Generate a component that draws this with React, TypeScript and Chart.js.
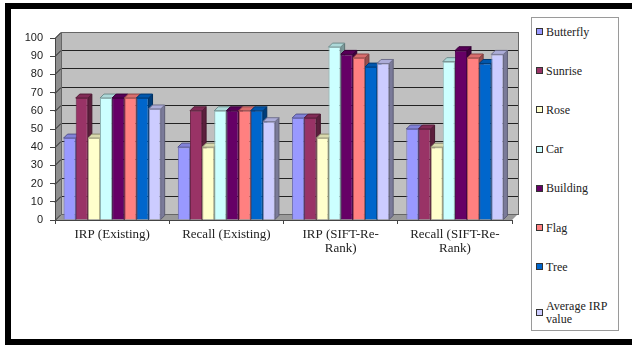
import React, { useEffect, useRef } from "react";
import { Chart, registerables } from "chart.js";

Chart.register(...registerables);

const categories: (string | string[])[] = [
  "IRP (Existing)",
  "Recall (Existing)",
  ["IRP (SIFT-Re-", "Rank)"],
  ["Recall (SIFT-Re-", "Rank)"],
];
const seriesNames = ["Butterfly", "Sunrise", "Rose", "Car", "Building", "Flag", "Tree", "Average IRP value"];
const seriesColors = ["#9999FF", "#993366", "#FFFFCC", "#CCFFFF", "#660066", "#FF8080", "#0066CC", "#CCCCFF"];
const butterfly = [45, 40, 56, 50];
const sunrise = [67, 60, 56, 50];
const rose = [45, 40, 45, 40];
const car = [67, 60, 95, 87];
const building = [67, 60, 91, 93];
const flag = [67, 60, 89, 89];
const tree = [67, 60, 84, 86];
const averageIrp = [61, 54, 86, 91];
const seriesValues = [butterfly, sunrise, rose, car, building, flag, tree, averageIrp];
const yTicks = [0, 10, 20, 30, 40, 50, 60, 70, 80, 90, 100];

const SERIF = "'Liberation Serif', 'Times New Roman', Times, serif";

function shade(hex: string, f: number): string {
  const n = parseInt(hex.slice(1), 16);
  const r = Math.round(((n >> 16) & 255) * f);
  const g = Math.round(((n >> 8) & 255) * f);
  const b = Math.round((n & 255) * f);
  return `rgb(${r},${g},${b})`;
}

function poly(ctx: CanvasRenderingContext2D, pts: number[][], fill: string, stroke?: string) {
  ctx.beginPath();
  ctx.moveTo(pts[0][0], pts[0][1]);
  for (let i = 1; i < pts.length; i++) ctx.lineTo(pts[i][0], pts[i][1]);
  ctx.closePath();
  ctx.fillStyle = fill;
  ctx.fill();
  if (stroke) {
    ctx.strokeStyle = stroke;
    ctx.lineWidth = 1;
    ctx.stroke();
  }
}

const WALL = 6;
const BAR_D = 4;

const threeD = {
  id: "threeD",
  beforeDraw(chart: any) {
    const { ctx, chartArea } = chart;
    if (!chartArea) return;
    const { left, right, top, bottom } = chartArea;
    const y = chart.scales.y;
    ctx.save();
    ctx.fillStyle = "#C0C0C0";
    ctx.fillRect(left + WALL, top - WALL, right - left, bottom - top);
    poly(ctx, [[left, top], [left + WALL, top - WALL], [left + WALL, bottom - WALL], [left, bottom]], "#8e8e8e");
    poly(ctx, [[left, bottom], [left + WALL, bottom - WALL], [right + WALL, bottom - WALL], [right, bottom]], "#9a9a9a");
    ctx.strokeStyle = "#222";
    ctx.lineWidth = 1;
    for (const v of yTicks) {
      const yy = Math.round(y.getPixelForValue(v)) + 0.5;
      ctx.beginPath();
      ctx.moveTo(left, yy);
      ctx.lineTo(left + WALL, yy - WALL);
      ctx.lineTo(right + WALL, yy - WALL);
      ctx.stroke();
    }
    ctx.strokeStyle = "#666";
    ctx.strokeRect(left + WALL + 0.5, top - WALL + 0.5, right - left, bottom - top);
    ctx.restore();
  },
  beforeDatasetsDraw(chart: any) {
    const { ctx } = chart;
    ctx.save();
    const n = chart.data.labels.length;
    for (let c = 0; c < n; c++) {
      chart.data.datasets.forEach((ds: any, i: number) => {
        const el = chart.getDatasetMeta(i).data[c];
        if (!el) return;
        const { x, y, base, width } = el.getProps(["x", "y", "base", "width"], true);
        const bl = x - width / 2;
        const br = x + width / 2;
        const col = seriesColors[i];
        poly(ctx, [[br, y], [br + BAR_D, y - BAR_D], [br + BAR_D, base - BAR_D], [br, base]], shade(col, 0.6), shade(col, 0.45));
        poly(ctx, [[bl, y], [bl + BAR_D, y - BAR_D], [br + BAR_D, y - BAR_D], [br, y]], shade(col, 0.85), shade(col, 0.55));
      });
    }
    ctx.restore();
  },
};

export default function App() {
  const ref = useRef<HTMLCanvasElement | null>(null);
  useEffect(() => {
    if (!ref.current) return;
    const chart = new Chart(ref.current, {
      type: "bar",
      data: {
        labels: categories,
        datasets: seriesNames.map((name, i) => ({
          label: name,
          data: seriesValues[i],
          backgroundColor: seriesColors[i],
          borderColor: shade(seriesColors[i], 0.7),
          borderWidth: 1,
          barPercentage: 1,
          categoryPercentage: 0.85,
        })),
      },
      options: {
        responsive: false,
        animation: false,
        devicePixelRatio: 1,
        layout: { padding: { left: 11, right: 120, top: 38, bottom: 85 } },
        plugins: { legend: { display: false }, tooltip: { enabled: false } },
        scales: {
          x: {
            afterFit: (s: any) => {
              s.height = 40;
            },
            grid: { drawOnChartArea: false, drawTicks: true, tickLength: 4, color: "#444", offset: true },
            border: { display: true, color: "#444", width: 1 },
            ticks: {
              color: "#222",
              padding: 3,
              maxRotation: 0,
              autoSkip: false,
              font: { family: SERIF, size: 13, lineHeight: 1.1 },
            },
          },
          y: {
            min: 0,
            max: 100,
            afterFit: (s: any) => {
              s.width = 44;
            },
            grid: { drawOnChartArea: false, drawTicks: true, tickLength: 5, color: "#444" },
            border: { display: true, color: "#444", width: 1 },
            ticks: {
              stepSize: 10,
              padding: 7,
              color: "#222",
              font: { family: "'Liberation Sans', Arial, sans-serif", size: 11 },
            },
          },
        },
      },
      plugins: [threeD],
    } as any);
    return () => chart.destroy();
  }, []);

  const legendCenters = seriesNames.map((_, i) => (i < seriesNames.length - 1 ? 32 + i * 39.2 : 313));

  return (
    <div
      style={{
        position: "fixed",
        left: 0,
        top: 0,
        width: 632,
        height: 345,
        background: "#fff",
        overflow: "hidden",
      }}
    >
      <div
        style={{
          position: "absolute",
          left: 5,
          top: 3,
          width: 640,
          height: 342,
          boxSizing: "border-box",
          borderTop: "6px solid #000",
          borderLeft: "6px solid #000",
          borderBottom: "6px solid #000",
        }}
      />
      <canvas ref={ref} width={632} height={345} style={{ position: "absolute", left: 0, top: 0, width: 632, height: 345 }} />
      <div
        style={{
          position: "absolute",
          left: 531,
          top: 17,
          width: 88,
          height: 314,
          boxSizing: "border-box",
          border: "1px solid #9a9a9a",
          background: "#fff",
        }}
      />
      {seriesNames.map((name, i) => {
        const cy = legendCenters[i];
        const twoLine = i === seriesNames.length - 1;
        return (
          <React.Fragment key={name}>
            <div
              style={{
                position: "absolute",
                left: 536,
                top: Math.round(cy - 4),
                width: 7,
                height: 7,
                boxSizing: "border-box",
                border: "1px solid #333",
                background: seriesColors[i],
              }}
            />
            <div
              style={{
                position: "absolute",
                left: 546,
                top: Math.round(cy - (twoLine ? 13 : 6.5)),
                width: 72,
                fontFamily: SERIF,
                fontSize: 12,
                lineHeight: "13px",
                color: "#222",
              }}
            >
              {name}
            </div>
          </React.Fragment>
        );
      })}
    </div>
  );
}
